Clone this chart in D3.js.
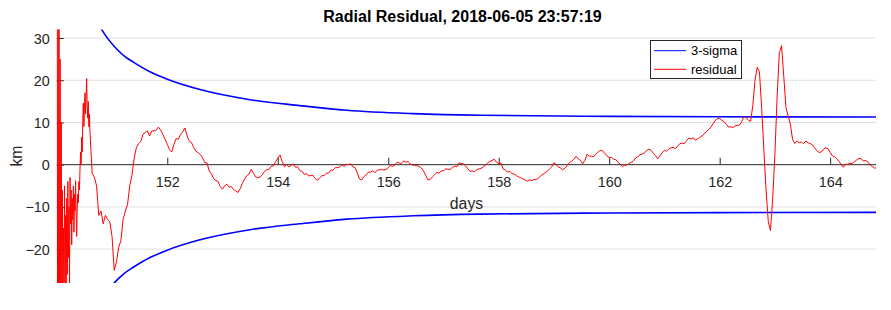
<!DOCTYPE html>
<html>
<head>
<meta charset="utf-8">
<script src="https://cdn.jsdelivr.net/npm/d3@7/dist/d3.min.js"></script>
<style>
  html, body { margin: 0; padding: 0; background: #fff; }
  svg { display: block; font-family: "Liberation Sans", Arial, Helvetica, sans-serif; }
</style>
</head>
<body>
<svg id="chart" width="891" height="310"></svg>
<script>
// ---------------- data ----------------
const titleText = "Radial Residual, 2018-06-05 23:57:19";
const xLabel = "days";
const yLabel = "km";
const xTicks = [152, 154, 156, 158, 160, 162, 164];
const yTicks = [-20, -10, 0, 10, 20, 30];
const xDomain = [150, 164.83];
const yDomain = [-28, 32];

// 3-sigma envelope (days, km), lower bound is its negative
const sigmaDays   = [150.746, 150.813, 150.927, 151.084, 151.234, 151.385, 151.687, 151.989, 152.592, 153.497, 154.402, 155.247, 156.447, 157.660, 160.013, 162.0, 164.83];
const sigmaValues = [33.5, 32.0, 29.8, 27.4, 25.6, 24.3, 22.0, 20.3, 17.8, 15.4, 14.0, 12.9, 12.1, 11.7, 11.45, 11.35, 11.3];

// residual, early part sampled every 0.01 day starting at day 150.00
const residualEarlyStart = 150.0;
const residualEarlyStep = 0.01;
const residualEarly = [
  40,-40,40,-40,36,-38,25,-30,10,-35,
  -6,-30,-15,-32,-5,-28,-12,-30,-8,-26,
  -4,-22,-10,-29,-3,-14,-6,-19,-8,-13,
  -5,-16,-7,-11,-3.8,-12,-17,-10,-7,-9,
  -4,-6,-1,3,0,6.5,3,10,14.6,9,
  13,17,12,16,20.4,14,11,15,9,12
];

// residual, main part sampled every 0.04 day starting at day 150.60
const residualMainStart = 150.6;
const residualMainStep = 0.04;
const residualMain = [
  8,-2,-3,-5,-12,-11,-14,-12,-13,-13.5,-17,-25,-23,-19.6,-18,-13,-11,-9.5,-5,-2.5,1.5,4,5,5.5,7.2,
  7.6,8,6.8,8,8,8.2,8.9,8.2,7.2,6,4.8,3.6,3,4.8,6.2,6,7.2,7.8,8.7,6.8,5.5,5.2,4,3.2,2.8,
  2.4,1.6,0.5,0.4,-1.5,-2.2,-3.3,-3.8,-4,-5.2,-5.8,-5,-4.6,-5.3,-5.2,-5.9,-6.2,-6.6,-5.7,-4.4,-3.4,-2.6,-2.2,-1.1,-2,
  -2.9,-3.1,-2.9,-2.4,-1.6,-1.2,-1.2,-0.4,-0.3,0.7,1.5,2.3,0.8,-0.5,0,-0.5,-0.2,0.2,-0.6,-0.5,-1.4,-1.6,-2.3,-2.1,-2.7,
  -2.5,-2.6,-3.3,-3.7,-3.1,-2.6,-2.6,-2,-2,-1.3,-1.3,-0.7,-0.7,-0.6,0,-0.4,0.1,0,0.2,-0.5,-0.7,-2,-3.4,-3.6,-2.8,
  -2.4,-1.8,-1.8,-1.4,-1.9,-1.3,-1.2,-1.1,-1.3,-1.1,-0.7,-0.2,-0.4,-0.1,0.6,0.4,0.3,0.9,0.6,0.7,0.2,-0.1,-0.1,-0.2,-0.4,
  -0.8,-1.5,-2.6,-3.6,-3.5,-2.9,-2.4,-1.8,-2,-1.5,-1.4,-1,-1.1,-1.1,-0.7,-0.4,-0.5,0.4,0.3,0.2,-0.3,-0.9,-1.6,-1.5,-1.7,
  -1.2,-1,-0.9,-0.5,-0.1,0.4,0.8,1,1.3,0.6,0.3,0.4,-1,-1.3,-1.7,-1.6,-2.1,-2.2,-2.6,-2.9,-3.1,-3.4,-3.6,-3.9,-3.6,
  -3.8,-3.5,-3.5,-3.2,-2.6,-2.3,-1.9,-1.5,-1,-0.5,0.5,0,-0.5,-0.8,-1.2,-0.8,-0.2,0.5,0.8,1.3,2,1.4,1,0.2,1,
  2.5,2,2,1.9,2.5,3,3.4,3.3,2.7,2.1,1.7,1.7,1.3,1.2,0.6,0.1,-0.5,-0.1,-0.1,0.3,0.6,0.9,1.6,1.9,2.4,
  2.5,2.8,3.4,3.7,3.4,2.7,2.1,1.4,2.1,2.8,3.4,3.2,3.7,4,4.1,3.8,4.4,5,5.1,5,5.7,6.3,6.1,6.4,5.8,
  6.1,6.5,6.8,7.3,7.9,8.3,8.9,9.7,10.5,10.9,11,10.5,10.2,9.6,8.9,9,8.8,9.2,9.3,9.4,10.2,11.4,11.1,10.5,10.3,
  14,20,23.1,22,13.5,3.5,-6,-13.5,-15.6,-8,2.5,16,26.5,28.2,21,13.5,11.6,9.5,6,5,5.6,5.2,5.4,5,5.6,
  5.2,5,4.7,4,3.3,2.9,3,3.7,4,3.8,2.9,2.1,1.9,1.4,0.8,0,-0.6,0.1,0.1,0.3,0.3,0.7,1.1,1.5,1.4,
  0.9,1,0.7,0,-0.4,-0.8,-0.8,-1
];

const legendItems = [
  { label: "3-sigma", color: "#0000ff" },
  { label: "residual", color: "#ff0000" }
];

// ---------------- build ----------------
const residual = residualEarly.map((v, i) => [residualEarlyStart + i * residualEarlyStep, v])
  .concat(residualMain.map((v, k) => [residualMainStart + k * residualMainStep, v]));
const sigmaUpper = sigmaDays.map((d, i) => [d, sigmaValues[i]]);
const sigmaLower = sigmaDays.map((d, i) => [d, -sigmaValues[i]]);

const svg = d3.select("#chart");
const plot = { left: 56.8, right: 876, top: 29.6, bottom: 282.9 };
const axisColor = "#262626";

const x = d3.scaleLinear().domain(xDomain).range([plot.left, plot.right]);
const y = d3.scaleLinear().domain(yDomain).range([plot.bottom, plot.top]);

svg.append("rect").attr("width", 891).attr("height", 310).attr("fill", "#fff");

svg.append("defs").append("clipPath").attr("id", "clip")
  .append("rect")
  .attr("x", plot.left).attr("y", plot.top)
  .attr("width", plot.right - plot.left).attr("height", plot.bottom - plot.top);

// grid lines
svg.append("g").selectAll("line").data(yTicks.filter(t => t !== 0)).join("line")
  .attr("x1", plot.left).attr("x2", plot.right)
  .attr("y1", d => y(d)).attr("y2", d => y(d))
  .attr("stroke", "#dfdfdf").attr("stroke-width", 1);

// x axis at origin
const xAxis = d3.axisTop(x).tickValues(xTicks).tickSize(7).tickSizeOuter(0).tickFormat(d3.format("d"));
const gx = svg.append("g").attr("transform", `translate(0,${y(0)})`).call(xAxis);
gx.select(".domain").attr("stroke", axisColor).attr("d", `M${plot.left},0H${plot.right}`);
gx.selectAll(".tick line").attr("stroke", axisColor);
gx.selectAll(".tick text")
  .attr("y", 22).attr("dy", 0)
  .attr("fill", axisColor)
  .style("font-size", "14.4px")
  .style("font-family", '"Liberation Sans", Arial, sans-serif');

// y axis (ticks inward, no visible line)
const yAxis = d3.axisRight(y).tickValues(yTicks).tickSize(7).tickSizeOuter(0).tickFormat(d3.format("d"));
const gy = svg.append("g").attr("transform", `translate(${plot.left},0)`).call(yAxis);
gy.select(".domain").remove();
gy.selectAll(".tick line").attr("stroke", axisColor);
gy.selectAll(".tick text")
  .attr("x", -7).attr("dy", "0.35em")
  .attr("text-anchor", "end")
  .attr("fill", axisColor)
  .style("font-size", "14.4px")
  .style("font-family", '"Liberation Sans", Arial, sans-serif');

// data
const gData = svg.append("g").attr("clip-path", "url(#clip)");
const sigmaLine = d3.line().x(d => x(d[0])).y(d => y(d[1])).curve(d3.curveMonotoneX);
[sigmaUpper, sigmaLower].forEach(s => {
  gData.append("path").datum(s).attr("d", sigmaLine)
    .attr("fill", "none").attr("stroke", "#0000ff").attr("stroke-width", 1.6);
});
const resLine = d3.line().x(d => x(d[0])).y(d => y(d[1]));
gData.append("path").datum(residual).attr("d", resLine)
  .attr("fill", "none").attr("stroke", "#ff0000").attr("stroke-width", 1)
  .attr("stroke-linejoin", "round");

// labels
svg.append("text").attr("x", 462.5).attr("y", 22.3).attr("text-anchor", "middle")
  .attr("fill", "#000").style("font-weight", "bold").style("font-size", "16px")
  .text(titleText);
svg.append("text").attr("x", 466.5).attr("y", 209.3).attr("text-anchor", "middle")
  .attr("fill", axisColor).style("font-size", "15.8px").text(xLabel);
svg.append("text").attr("transform", "translate(21.5,156) rotate(-90)").attr("text-anchor", "middle")
  .attr("fill", axisColor).style("font-size", "15.8px").text(yLabel);

// legend
const lg = svg.append("g");
lg.append("rect").attr("x", 650.5).attr("y", 40.5).attr("width", 91).attr("height", 38)
  .attr("fill", "#fff").attr("stroke", axisColor).attr("stroke-width", 1);
const legendY = [50.7, 69.3];
legendItems.forEach((it, i) => {
  lg.append("line").attr("x1", 654).attr("x2", 686).attr("y1", legendY[i]).attr("y2", legendY[i])
    .attr("stroke", it.color).attr("stroke-width", 1);
  lg.append("text").attr("x", 691).attr("y", legendY[i]).attr("dy", "0.35em")
    .attr("fill", "#000").style("font-size", "13px").text(it.label);
});
</script>
</body>
</html>
